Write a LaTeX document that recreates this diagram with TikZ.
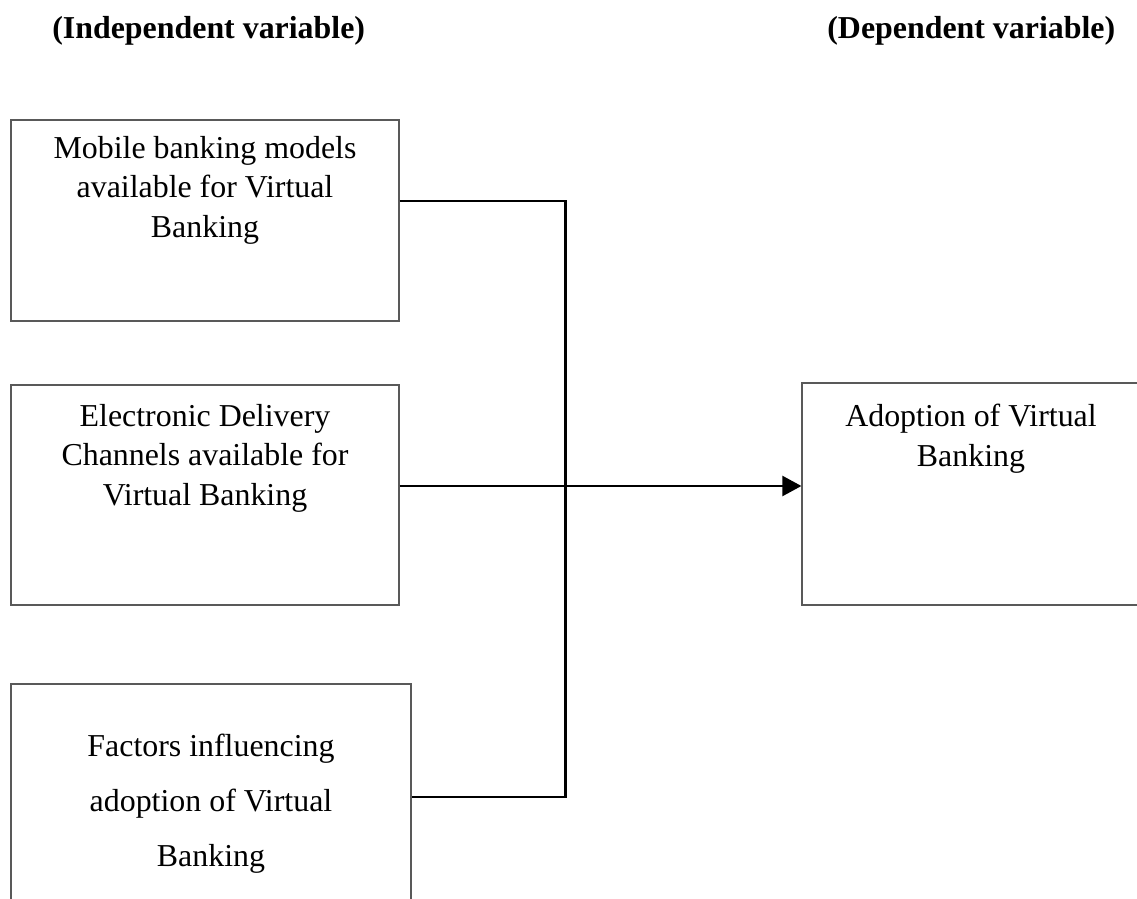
\documentclass[tikz,border=0pt]{standalone}
\usepackage{fontspec}
\setmainfont{Liberation Serif}
\usetikzlibrary{arrows.meta}
\tikzset{
  boxshape/.style={draw=black!65, line width=0.7pt, rectangle, inner sep=0pt},
  boxtext/.style={anchor=north, inner sep=0pt, align=center, font=\fontsize{18.15pt}{22.4pt}\selectfont},
  widetext/.style={anchor=north, inner sep=0pt, align=center, font=\fontsize{18.15pt}{31.3pt}\selectfont},
  headtext/.style={anchor=base west, inner sep=0pt, font=\bfseries\fontsize{18.15pt}{22pt}\selectfont},
  link/.style={draw=black, line width=1.3pt},
  arrowlink/.style={link, -{Triangle[length=0.38cm, width=0.4cm]}}
}
\begin{document}
\begin{tikzpicture}[x=0.02cm, y=-0.02cm]
\useasboundingbox (0,0) rectangle (1137,899);
\clip (0,0) rectangle (1137,899);
\fill[white] (0,0) rectangle (1137,899);

% headers
\node[headtext] (hind) at (52,38) {(Independent variable)};
\node[headtext] (hdep) at (827,38) {(Dependent variable)};

% boxes
\node[boxshape, minimum width=7.76cm, minimum height=4.02cm] (b1) at (205,220.5) {};
\node[boxshape, minimum width=7.76cm, minimum height=4.4cm] (b2) at (205,495) {};
\node[boxshape, minimum width=8cm, minimum height=5.52cm] (b3) at (211,822) {};
\node[boxshape, minimum width=6.76cm, minimum height=4.44cm] (r) at (971,494) {};

% texts
\node[boxtext] (t1) at (205,136) {Mobile banking models\\available for Virtual\\Banking};
\node[boxtext] (t2) at (205,404) {Electronic Delivery\\Channels available for\\Virtual Banking};
\node[widetext] (t3) at (211,734) {Factors influencing\\adoption of Virtual\\Banking};
\node[boxtext] (tr) at (971,404) {Adoption of Virtual\\Banking};

% connectors
\coordinate (j1) at (565.5,201);
\coordinate (j3) at (565.5,797);
\coordinate (a) at (600,486);
\draw[link] (b1.east |- j1) -- (j1) -- (j3) -- (b3.east |- j3);
\draw[arrowlink] (b2.east |- a) -- (r.west |- a);
\end{tikzpicture}
\end{document}
